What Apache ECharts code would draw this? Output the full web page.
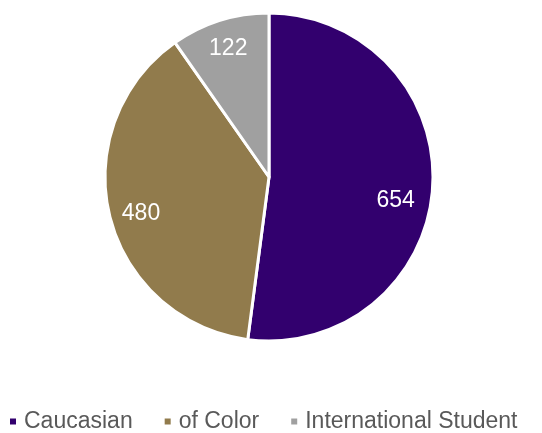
<!DOCTYPE html>
<html>
<head>
<meta charset="utf-8">
<script src="https://cdn.jsdelivr.net/npm/echarts@6/dist/echarts.min.js"></script>
<style>html,body{margin:0;padding:0;background:#fff}#c{width:542px;height:433px}</style>
</head>
<body>
<div id="c"></div>
<script>
var categories = ['Caucasian', 'of Color', 'International Student'];
var values = [654, 480, 122];
var colors = ['#32006e', '#917b4c', '#a0a0a0'];

var chart = echarts.init(document.getElementById('c'), null, {renderer: 'canvas'});
var data = categories.map(function (n, i) {
  return {name: n, value: values[i], itemStyle: {color: colors[i]}};
});
var labelData = categories.map(function (n, i) {
  return {name: n, value: values[i]};
});
chart.setOption({
  animation: false,
  legend: {
    data: categories,
    left: 8,
    top: 410,
    width: 534,
    icon: 'rect',
    itemWidth: 8,
    itemHeight: 8,
    itemGap: 30,
    padding: 0,
    textStyle: {fontFamily: 'Liberation Sans, Arial, sans-serif', fontSize: 23, color: '#595959', padding: [0, 0, 0, 2]}
  },
  series: [
    {
      type: 'pie',
      center: [269, 177],
      radius: [0, 164],
      startAngle: 90,
      clockwise: true,
      silent: true,
      label: {show: false},
      labelLine: {show: false},
      itemStyle: {borderColor: '#ffffff', borderWidth: 3},
      data: data
    },
    {
      type: 'pie',
      center: [269, 177],
      radius: [108, 164],
      startAngle: 90,
      clockwise: true,
      silent: true,
      legendHoverLink: false,
      itemStyle: {color: 'rgba(0,0,0,0)'},
      label: {
        show: true,
        position: 'inside',
        formatter: '{c}',
        color: '#ffffff',
        fontSize: 23,
        fontFamily: 'Liberation Sans, Arial, sans-serif'
      },
      labelLayout: function (p) {
        if (p.dataIndex === 0) return {dx: -12, dy: 15};
        if (p.dataIndex === 1) return {dx: 7, dy: 4};
        return {dx: 1, dy: 4};
      },
      labelLine: {show: false},
      data: labelData
    }
  ]
});
</script>
</body>
</html>
